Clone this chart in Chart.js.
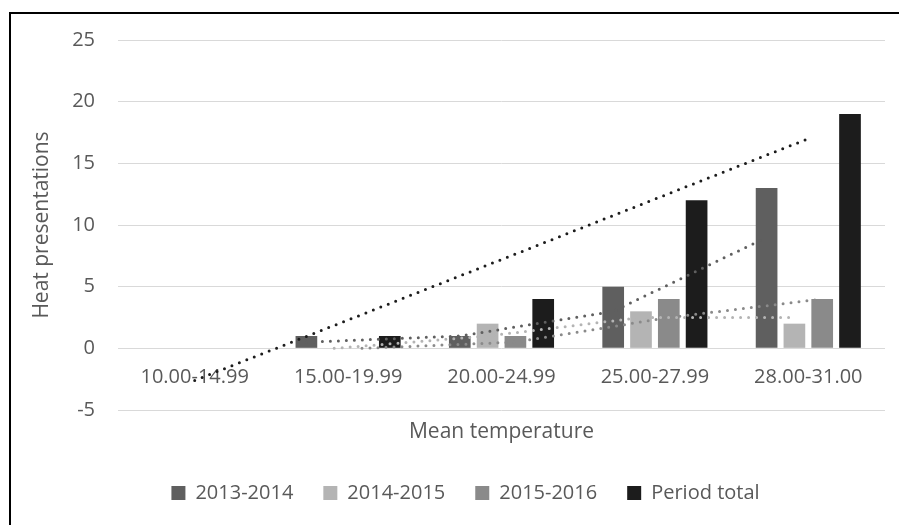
<!DOCTYPE html>
<html>
<head>
<meta charset="utf-8">
<script src="https://cdn.jsdelivr.net/npm/chart.js@4.4.1/dist/chart.umd.min.js"></script>
<style>
  html, body { margin: 0; padding: 0; background: #fff; }
  #wrap { position: relative; width: 899px; height: 525px; overflow: hidden; }
  #frame {
    position: absolute; left: 9px; top: 12px; width: 1000px; height: 600px;
    border-left: 2px solid #000; border-top: 2px solid #000; pointer-events: none;
  }
</style>
</head>
<body>
<div id="wrap">
  <canvas id="heatChart" width="899" height="525"></canvas>
  <div id="frame"></div>
</div>
<script>
/* ================= DATA ================= */
const categories = ["10.00-14.99", "15.00-19.99", "20.00-24.99", "25.00-27.99", "28.00-31.00"];
const seriesNames = ["2013-2014", "2014-2015", "2015-2016", "Period total"];
const s2013 = [0, 1, 1, 5, 13];
const s2014 = [0, 0, 2, 3, 2];
const s2015 = [0, 0, 1, 4, 4];
const sTotal = [0, 1, 4, 12, 19];
const yTicks = [-5, 0, 5, 10, 15, 20, 25];

/* ================= LAYOUT / STYLE ================= */
const CAT_PCT = 0.725;
const BAR_PCT = 0.78;
const TEXT = "#595959";
const FONT = "'Open Sans', 'DejaVu Sans', sans-serif";
const barColors = ["#5f5f5f", "#b4b4b4", "#8a8a8a", "#1c1c1c"];

// where series j sits inside its category group, in category units
function slotOffset(j) {
  return (j - 1.5) * CAT_PCT / 4;
}

// 2-period moving average, drawn at the series' own bar slot
function movingAvg(values, j) {
  const pts = [];
  for (let i = 1; i < values.length; i++) {
    pts.push({ x: i + slotOffset(j), y: (values[i - 1] + values[i]) / 2 });
  }
  return pts;
}

// least squares line over the categories
function linearFit(values) {
  const n = values.length;
  const mx = (n - 1) / 2;
  const my = values.reduce((a, b) => a + b, 0) / n;
  let num = 0, den = 0;
  values.forEach((v, i) => { num += (i - mx) * (v - my); den += (i - mx) * (i - mx); });
  const k = num / den;
  return values.map((v, i) => ({ x: i, y: my + k * (i - mx) }));
}

const allSeries = [s2013, s2014, s2015, sTotal];

const barSets = allSeries.map((vals, j) => ({
  type: "bar",
  label: seriesNames[j],
  data: vals,
  backgroundColor: barColors[j],
  borderWidth: 0,
  inflateAmount: 0,
  categoryPercentage: CAT_PCT,
  barPercentage: BAR_PCT,
  order: 2
}));

// trend points are already category-index based, so no parsing
function trendSet(points, color) {
  return {
    type: "line",
    label: "trend",
    data: points,
    parsing: false,
    borderColor: color,
    borderWidth: 3,
    borderDash: [0, 8],
    borderCapStyle: "round",
    pointRadius: 0,
    tension: 0,
    fill: false,
    order: 1
  };
}

const trendSets = [
  trendSet(movingAvg(s2013, 0), barColors[0]),
  trendSet(movingAvg(s2014, 1), barColors[1]),
  trendSet(movingAvg(s2015, 2), barColors[2]),
  trendSet(linearFit(sTotal), barColors[3])
];

/* ================= LEGEND NUDGE ================= */
const legendShift = {
  id: "legendShift",
  afterLayout(chart) {
    chart.legend.left += 23;
    chart.legend.right += 23;
  }
};

/* ================= CHART ================= */
new Chart(document.getElementById("heatChart"), {
  type: "bar",
  data: {
    labels: categories,
    datasets: [...barSets, ...trendSets]
  },
  plugins: [legendShift],
  options: {
    responsive: false,
    animation: false,
    layout: { padding: { left: 0, right: 14, top: 40, bottom: 12 } },
    scales: {
      x: {
        type: "category",
        position: { y: 0 },
        grid: { display: false, drawTicks: false },
        border: { display: false },
        ticks: {
          color: TEXT, font: { family: FONT, size: 20 },
          padding: 17, maxRotation: 0, autoSkip: false
        }
      },
      // holds only the axis title at the bottom
      xTitle: {
        type: "linear",
        axis: "x",
        position: "bottom",
        grid: { display: false, drawTicks: false },
        border: { display: false },
        ticks: { display: false },
        title: {
          display: true, text: "Mean temperature", color: TEXT,
          font: { family: FONT, size: 21 }, padding: { top: 0, bottom: 8 }
        },
        afterFit: s => { s.height = 43; }
      },
      y: {
        min: yTicks[0],
        max: yTicks[yTicks.length - 1],
        afterBuildTicks: s => { s.ticks = yTicks.map(v => ({ value: v })); },
        grid: { color: "#d9d9d9", lineWidth: 1, drawTicks: false },
        border: { display: false },
        ticks: { color: TEXT, font: { family: FONT, size: 20 }, padding: 23 },
        title: {
          display: true, text: "Heat presentations", color: TEXT,
          font: { family: FONT, size: 21 }, padding: { top: 29, bottom: 0 }
        },
        afterFit: s => { s.width = 118; }
      }
    },
    plugins: {
      tooltip: { enabled: false },
      legend: {
        position: "bottom",
        labels: {
          filter: item => item.datasetIndex < 4,
          boxWidth: 14, boxHeight: 14, padding: 30,
          color: TEXT, font: { family: FONT, size: 20 }
        }
      }
    }
  }
});
</script>
</body>
</html>
